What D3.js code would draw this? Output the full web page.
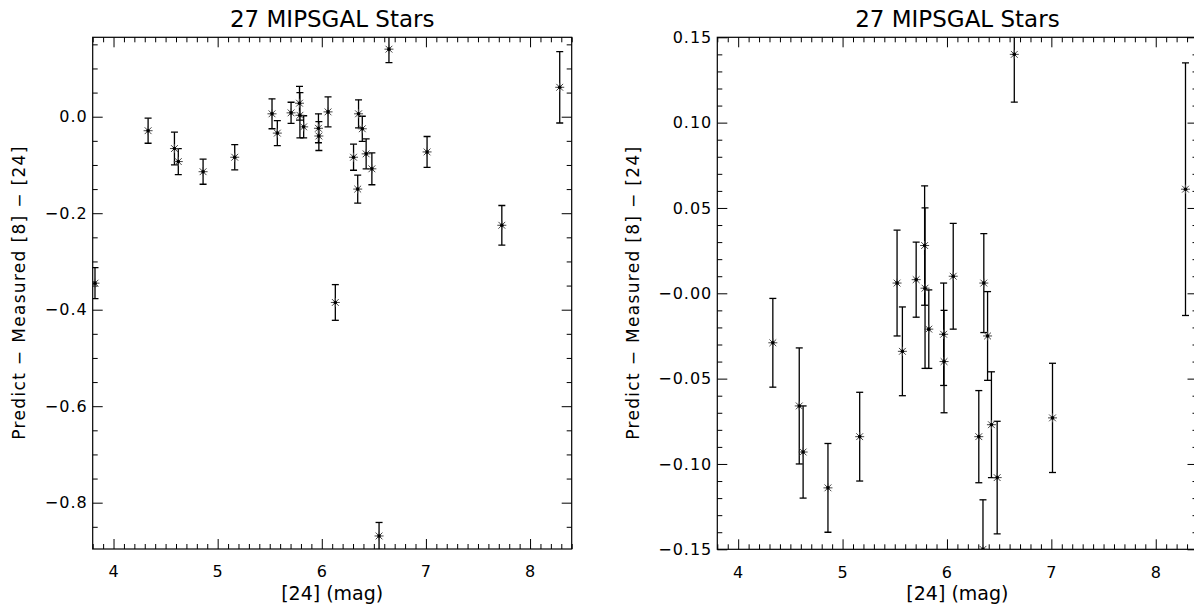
<!DOCTYPE html>
<html>
<head>
<meta charset="utf-8">
<script src="https://cdn.jsdelivr.net/npm/d3@7"></script>
<style>
  body { margin: 0; background: #fff; }
  svg { display: block; font-family: "DejaVu Sans", sans-serif; }
</style>
</head>
<body>
<svg id="chart" width="1194" height="613"></svg>
<script>
// 24 micron magnitude of each star
const mag24 = [3.822, 4.332, 4.585, 4.622, 4.860, 5.164, 5.522, 5.573, 5.705,
  5.786, 5.790, 5.826, 5.968, 5.972, 6.060, 6.130, 6.305, 6.345, 6.353,
  6.389, 6.426, 6.481, 6.550, 6.645, 7.011, 7.729, 8.285];
// predicted minus measured [8]-[24]
const resid = [-0.345, -0.029, -0.066, -0.093, -0.114, -0.084, 0.006, -0.034, 0.008,
  0.028, 0.003, -0.021, -0.024, -0.040, 0.010, -0.385, -0.084, -0.150, 0.006,
  -0.025, -0.077, -0.108, -0.869, 0.140, -0.073, -0.225, 0.061];
const residErr = [0.032, 0.026, 0.034, 0.027, 0.026, 0.026, 0.031, 0.026, 0.022,
  0.035, 0.047, 0.023, 0.030, 0.030, 0.031, 0.037, 0.027, 0.029, 0.029,
  0.026, 0.031, 0.033, 0.028, 0.028, 0.032, 0.041, 0.074];

const xMajor = [4, 5, 6, 7, 8];
const leftYMajor = [0, -0.2, -0.4, -0.6, -0.8];
const leftYLabels = ["0.0", "\u22120.2", "\u22120.4", "\u22120.6", "\u22120.8"];
const rightYMajor = [0.15, 0.10, 0.05, 0, -0.05, -0.10, -0.15];
const rightYLabels = ["0.15", "0.10", "0.05", "\u22120.00", "\u22120.05", "\u22120.10", "\u22120.15"];

const plotTitle = "27 MIPSGAL Stars";
const xTitle = "[24] (mag)";
const yTitle = "Predict \u2212 Measured [8] \u2212 [24]";

const stars = mag24.map((m, i) => ({ x: m, y: resid[i], e: residErr[i] }));
const svg = d3.select("#chart");

function panel(cfg) {
  const x = d3.scaleLinear().domain([3.8, 8.4]).range([cfg.left, cfg.right]);
  const y = d3.scaleLinear().domain(cfg.yDomain).range([cfg.bottom, cfg.top]);
  const g = svg.append("g").attr("id", cfg.id);

  const xMinor = d3.range(38, 85).map(v => v / 10).filter(v => !xMajor.includes(v));
  const yMinor = cfg.yMinor.filter(v => v >= cfg.yDomain[0] && v <= cfg.yDomain[1]);

  function styleAxis(sel) {
    sel.select(".domain").remove();
    sel.attr("color", "#000").selectAll("line").attr("stroke-width", 1);
    sel.selectAll("text")
      .attr("font-family", "DejaVu Sans, sans-serif")
      .attr("font-size", 16)
      .attr("letter-spacing", "1px")
      .attr("fill", "#000");
  }

  // bottom
  g.append("g").attr("transform", `translate(0,${cfg.bottom})`)
    .call(d3.axisBottom(x).tickValues(xMinor).tickSize(-5).tickFormat("").tickSizeOuter(0)).call(styleAxis);
  g.append("g").attr("transform", `translate(0,${cfg.bottom})`)
    .call(d3.axisBottom(x).tickValues(xMajor).tickSize(-10).tickPadding(17).tickFormat(d3.format("d")).tickSizeOuter(0))
    .call(styleAxis);
  // top
  g.append("g").attr("transform", `translate(0,${cfg.top})`)
    .call(d3.axisTop(x).tickValues(xMinor).tickSize(-5).tickFormat("").tickSizeOuter(0)).call(styleAxis);
  g.append("g").attr("transform", `translate(0,${cfg.top})`)
    .call(d3.axisTop(x).tickValues(xMajor).tickSize(-10).tickFormat("").tickSizeOuter(0)).call(styleAxis);
  // left
  g.append("g").attr("transform", `translate(${cfg.left},0)`)
    .call(d3.axisLeft(y).tickValues(yMinor).tickSize(-5).tickFormat("").tickSizeOuter(0)).call(styleAxis);
  g.append("g").attr("transform", `translate(${cfg.left},0)`)
    .call(d3.axisLeft(y).tickValues(cfg.yMajor).tickSize(-10).tickPadding(5)
      .tickFormat((d, i) => cfg.yLabels[i]).tickSizeOuter(0))
    .call(styleAxis);
  // right
  g.append("g").attr("transform", `translate(${cfg.right},0)`)
    .call(d3.axisRight(y).tickValues(yMinor).tickSize(-5).tickFormat("").tickSizeOuter(0)).call(styleAxis);
  g.append("g").attr("transform", `translate(${cfg.right},0)`)
    .call(d3.axisRight(y).tickValues(cfg.yMajor).tickSize(-10).tickFormat("").tickSizeOuter(0)).call(styleAxis);

  // frame
  g.append("rect")
    .attr("x", cfg.left).attr("y", cfg.top)
    .attr("width", cfg.right - cfg.left).attr("height", cfg.bottom - cfg.top)
    .attr("fill", "none").attr("stroke", "#000").attr("stroke-width", 1.2);

  // clip
  const clipId = cfg.id + "-clip";
  svg.append("clipPath").attr("id", clipId).append("rect")
    .attr("x", cfg.left).attr("y", cfg.top)
    .attr("width", cfg.right - cfg.left).attr("height", cfg.bottom - cfg.top);
  const marks = g.append("g").attr("clip-path", `url(#${clipId})`);

  // error bars
  const bars = marks.selectAll(".err").data(stars).join("g").attr("class", "err")
    .attr("stroke", "#000").attr("stroke-width", 1.3);
  bars.append("line")
    .attr("x1", d => x(d.x)).attr("x2", d => x(d.x))
    .attr("y1", d => y(d.y - d.e)).attr("y2", d => y(d.y + d.e));
  bars.append("line")
    .attr("x1", d => x(d.x) - 3.5).attr("x2", d => x(d.x) + 3.5)
    .attr("y1", d => y(d.y + d.e)).attr("y2", d => y(d.y + d.e));
  bars.append("line")
    .attr("x1", d => x(d.x) - 3.5).attr("x2", d => x(d.x) + 3.5)
    .attr("y1", d => y(d.y - d.e)).attr("y2", d => y(d.y - d.e));

  // asterisks
  const star = marks.selectAll(".star").data(stars).join("g").attr("class", "star")
    .attr("transform", d => `translate(${x(d.x)},${y(d.y)})`);
  star.append("path")
    .attr("d", "M0,-4.5V4.5M-4.5,0H4.5M-3.4,-3.4L3.4,3.4M-3.4,3.4L3.4,-3.4")
    .attr("stroke", "#444").attr("stroke-width", 1).attr("fill", "none");
  star.append("circle").attr("r", 1.8).attr("fill", "#000");

  // title
  g.append("text")
    .attr("x", (cfg.left + cfg.right) / 2).attr("y", 26.5)
    .attr("text-anchor", "middle").attr("font-size", 23).attr("fill", "#000")
    .text(plotTitle);
  // x title
  g.append("text")
    .attr("x", (cfg.left + cfg.right) / 2).attr("y", 600)
    .attr("text-anchor", "middle").attr("font-size", 19).attr("fill", "#000")
    .text(xTitle);
  // y title
  const ymid = (cfg.top + cfg.bottom) / 2;
  g.append("text")
    .attr("transform", `translate(${cfg.yTitleX},${ymid}) rotate(-90)`)
    .attr("text-anchor", "middle").attr("font-size", 17).attr("fill", "#000")
    .attr("textLength", 293).attr("lengthAdjust", "spacing")
    .text(yTitle);
}

panel({
  id: "left", left: 92.7, right: 571.7, top: 37.3, bottom: 549,
  yDomain: [-0.896, 0.1646],
  yMajor: leftYMajor, yLabels: leftYLabels,
  yMinor: d3.range(-18, 4).map(v => +(v * 0.05).toFixed(2)).filter(v => !leftYMajor.includes(v)),
  yTitleX: 25
});

panel({
  id: "right", left: 717.3, right: 1197.5, top: 37.3, bottom: 549.3,
  yDomain: [-0.15, 0.15],
  yMajor: rightYMajor, yLabels: rightYLabels,
  yMinor: d3.range(-15, 16).map(v => v / 100).filter(v => !rightYMajor.includes(v)),
  yTitleX: 639
});
</script>
</body>
</html>
